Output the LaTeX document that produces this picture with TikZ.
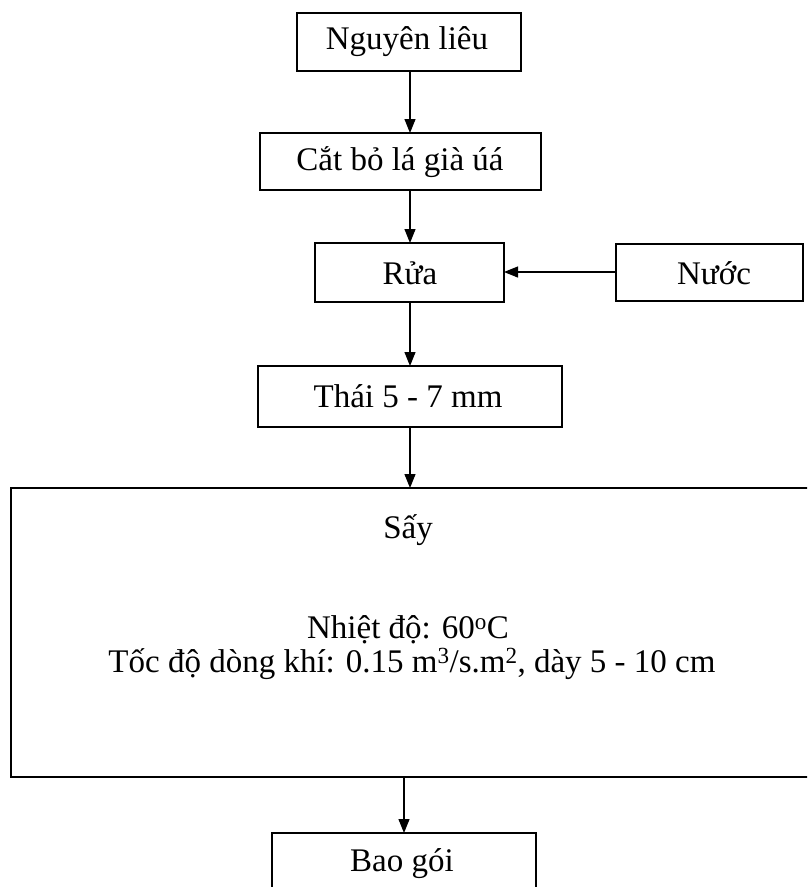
\documentclass[tikz,border=0pt]{standalone}
\usepackage{fontspec}
\setmainfont{Liberation Serif}
\usetikzlibrary{arrows.meta}
\begin{document}
\begin{tikzpicture}[x=1pt,y=-1pt,
  box/.style={draw=black,line width=1.5pt},
  flow/.style={draw=black,line width=1.2pt,-{Triangle[length=14pt,width=11pt]}},
  lbl/.style={font=\fontsize{33}{36}\selectfont,inner sep=0pt,anchor=center}]
\useasboundingbox (0,0) rectangle (807,887);
\begin{scope}
\clip (0,0) rectangle (807,887);
% process boxes
\draw[box] (297,13) rectangle (521,71);
\draw[box] (260,133) rectangle (541,190);
\draw[box] (315,243) rectangle (504,302);
\draw[box] (616,244) rectangle (803,301);
\draw[box] (258,366) rectangle (562,427);
\draw[box] (11,488) rectangle (815,777);
\draw[box] (272,833) rectangle (536,900);
% anchors for the connectors
\coordinate (nl) at (410,71);   \coordinate (cb) at (410,133);
\coordinate (cbb) at (410,190); \coordinate (ru) at (410,243);
\coordinate (rub) at (410,302); \coordinate (th) at (410,366);
\coordinate (thb) at (410,427); \coordinate (sa) at (410,488);
\coordinate (sab) at (404,777); \coordinate (bg) at (404,833);
\coordinate (nu) at (616,272);  \coordinate (rur) at (504,272);
% labels
\node[lbl] (t1) at (407,42) {Nguyên liêu};
\node[lbl] (t2) at (400,162) {Cắt bỏ lá già úá};
\node[lbl] (t3) at (410,273) {Rửa};
\node[lbl] (t4) at (714,273) {Nước};
\node[lbl] (t5) at (408,396) {Thái 5 - 7 mm};
\node[lbl] (t6) at (408,530) {Sấy};
\node[lbl] (t7) at (408,630) {Nhiệt độ: 60\textsuperscript{o}C};
\node[lbl] (t8) at (412,664) {Tốc độ dòng khí: 0.15 m\textsuperscript{3}/s.m\textsuperscript{2}, dày 5 - 10 cm};
\node[lbl] (t9) at (402,864) {Bao gói};
% connectors
\draw[flow] (nl) -- (cb);
\draw[flow] (cbb) -- (ru);
\draw[flow] (nu) -- (rur);
\draw[flow] (rub) -- (th);
\draw[flow] (thb) -- (sa);
\draw[flow] (sab) -- (bg);
\end{scope}
\end{tikzpicture}
\end{document}
